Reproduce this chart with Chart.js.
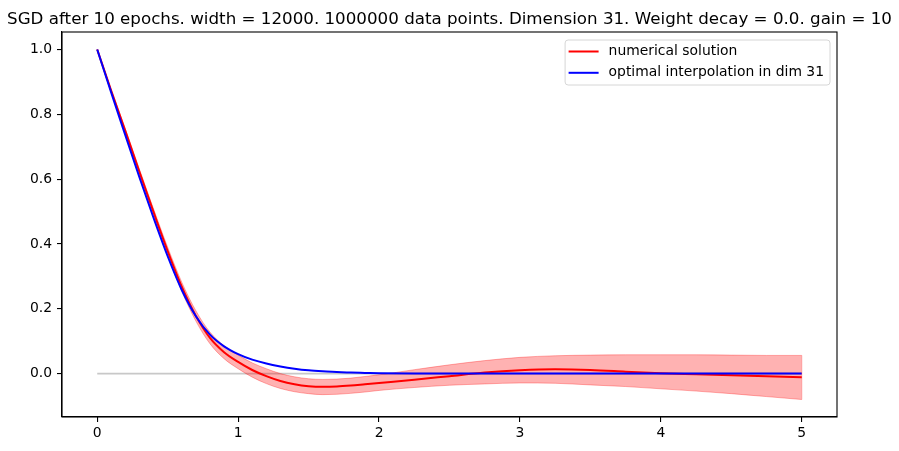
<!DOCTYPE html>
<html>
<head>
<meta charset="utf-8">
<script src="https://cdn.jsdelivr.net/npm/chart.js@4/dist/chart.umd.min.js"></script>
<style>
  html, body { margin: 0; padding: 0; background: #fff; }
  #wrap { width: 899px; height: 451px; }
</style>
</head>
<body>
<div id="wrap"><canvas id="chart" width="899" height="451"></canvas></div>
<script>
// values
const xs = [0, 0.1, 0.2, 0.3, 0.4, 0.5, 0.6, 0.7, 0.8, 0.9, 1.0,
            1.1, 1.2, 1.3, 1.4, 1.5, 1.6, 1.7, 1.8, 1.9, 2.0,
            2.25, 2.5, 2.75, 3.0, 3.25, 3.5, 3.75, 4.0, 4.25, 4.5, 4.75, 5.0];

const numerical = [1.000, 0.872, 0.748, 0.622, 0.498, 0.378, 0.268, 0.178, 0.110, 0.066, 0.036,
                   0.011, -0.008, -0.023, -0.033, -0.039, -0.041, -0.040, -0.037, -0.033, -0.029,
                   -0.019, -0.008, 0.003, 0.010, 0.013, 0.011, 0.006, 0.001, -0.002, -0.005, -0.008, -0.011];

const bandUpper = [1.000, 0.875, 0.754, 0.630, 0.508, 0.390, 0.282, 0.194, 0.128, 0.086, 0.057,
                   0.033, 0.015, 0.000, -0.010, -0.016, -0.018, -0.017, -0.014, -0.009, -0.004,
                   0.012, 0.027, 0.040, 0.050, 0.055, 0.057, 0.058, 0.058, 0.058, 0.057, 0.056, 0.056];

const bandLower = [1.000, 0.869, 0.742, 0.614, 0.488, 0.366, 0.254, 0.162, 0.092, 0.046, 0.015,
                   -0.011, -0.031, -0.046, -0.056, -0.062, -0.065, -0.064, -0.061, -0.057, -0.052,
                   -0.043, -0.036, -0.032, -0.029, -0.030, -0.035, -0.040, -0.047, -0.054, -0.062, -0.071, -0.080];

const optimal = [1.000, 0.866, 0.735, 0.605, 0.480, 0.362, 0.258, 0.177, 0.120, 0.084, 0.060,
                 0.043, 0.031, 0.022, 0.015, 0.010, 0.007, 0.005, 0.003, 0.002, 0.001,
                 0, 0, 0, 0, 0, 0, 0, 0, 0, 0, 0, 0];

const zeroLineX = [0, 5];
const zeroLineY = [0, 0];

const xTicks = [0, 1, 2, 3, 4, 5];
const yTicks = [0.0, 0.2, 0.4, 0.6, 0.8, 1.0];

const titleText = 'SGD after 10 epochs. width = 12000. 1000000 data points. Dimension 31. Weight decay = 0.0. gain = 10';

function pts(xv, yv) {
  return xv.map((x, i) => ({ x: x, y: yv[i] }));
}

Chart.defaults.font.family = "'DejaVu Sans', sans-serif";
Chart.defaults.color = '#000';

// matplotlib style title, frame and legend box
const framePlugin = {
  id: 'frame',
  afterDatasetsDraw(chart) {
    // closing edge of the band at the last x
    const ctx = chart.ctx;
    const sx = chart.scales.x, sy = chart.scales.y;
    const n = xs.length - 1;
    ctx.save();
    ctx.strokeStyle = 'rgba(255,0,0,0.3)';
    ctx.lineWidth = 1;
    ctx.beginPath();
    ctx.moveTo(sx.getPixelForValue(xs[n]), sy.getPixelForValue(bandUpper[n]));
    ctx.lineTo(sx.getPixelForValue(xs[n]), sy.getPixelForValue(bandLower[n]));
    ctx.stroke();
    ctx.restore();
  },
  afterDraw(chart) {
    const ctx = chart.ctx;
    const a = chart.chartArea;
    ctx.save();
    ctx.strokeStyle = '#000';
    ctx.lineWidth = 1.1;
    ctx.strokeRect(a.left, a.top, a.right - a.left, a.bottom - a.top);

    // title
    ctx.fillStyle = '#000';
    ctx.font = "16.7px 'DejaVu Sans'";
    ctx.textAlign = 'center';
    ctx.textBaseline = 'alphabetic';
    ctx.fillText(titleText, (a.left + a.right) / 2, 24);

    // legend
    const items = chart.data.datasets.filter(d => d.legendRank !== undefined)
      .sort((p, q) => p.legendRank - q.legendRank);
    const fs = 13.9;
    ctx.font = fs + "px 'DejaVu Sans'";
    let maxW = 0;
    items.forEach(d => { maxW = Math.max(maxW, ctx.measureText(d.label).width); });
    const rowH = 21.3;
    const w = 3.5 + 30 + 10 + maxW + 6;
    const h = 45;
    const bx = a.right - 7 - w;
    const by = a.top + 8;
    ctx.beginPath();
    if (ctx.roundRect) ctx.roundRect(bx, by, w, h, 3); else ctx.rect(bx, by, w, h);
    ctx.fillStyle = 'rgba(255,255,255,0.8)';
    ctx.fill();
    ctx.strokeStyle = '#d6d6d6';
    ctx.lineWidth = 1;
    ctx.stroke();
    items.forEach((d, i) => {
      const cy = by + 11.5 + i * rowH;
      ctx.beginPath();
      ctx.moveTo(bx + 3.5, cy);
      ctx.lineTo(bx + 33.5, cy);
      ctx.strokeStyle = d.borderColor;
      ctx.lineWidth = 2;
      ctx.stroke();
      ctx.fillStyle = '#000';
      ctx.textBaseline = 'middle';
      ctx.textAlign = 'left';
      ctx.fillText(d.label, bx + 43.5, cy);
    });
    ctx.restore();
  }
};

new Chart(document.getElementById('chart'), {
  type: 'line',
  data: {
    datasets: [
      {
        label: 'optimal interpolation in dim 31',
        data: pts(xs, optimal),
        borderColor: '#0000ff',
        borderWidth: 2,
        pointRadius: 0,
        cubicInterpolationMode: 'monotone',
        fill: false,
        order: 0,
        legendRank: 1
      },
      {
        label: 'numerical solution',
        data: pts(xs, numerical),
        borderColor: '#ff0000',
        borderWidth: 2,
        pointRadius: 0,
        cubicInterpolationMode: 'monotone',
        fill: false,
        order: 1,
        legendRank: 0
      },
      {
        label: 'upper',
        data: pts(xs, bandUpper),
        borderColor: 'rgba(255,0,0,0.3)',
        borderWidth: 1,
        pointRadius: 0,
        cubicInterpolationMode: 'monotone',
        fill: false,
        order: 2
      },
      {
        label: 'lower',
        data: pts(xs, bandLower),
        borderColor: 'rgba(255,0,0,0.3)',
        backgroundColor: 'rgba(255,0,0,0.3)',
        borderWidth: 1,
        pointRadius: 0,
        cubicInterpolationMode: 'monotone',
        fill: '-1',
        order: 3
      },
      {
        label: 'zero',
        data: pts(zeroLineX, zeroLineY),
        borderColor: '#c8c8c8',
        borderWidth: 1.8,
        pointRadius: 0,
        fill: false,
        order: 4
      }
    ]
  },
  options: {
    responsive: false,
    animation: false,
    devicePixelRatio: 1,
    layout: { padding: { left: 0, right: 62, top: 32, bottom: 0 } },
    plugins: {
      legend: { display: false },
      tooltip: { enabled: false },
      title: { display: false }
    },
    scales: {
      x: {
        type: 'linear',
        min: -0.25,
        max: 5.25,
        afterBuildTicks: s => { s.ticks = xTicks.map(v => ({ value: v })); },
        afterFit: s => { s.height = 34; },
        ticks: {
          font: { size: 13.9 },
          color: '#000',
          padding: 3,
          maxRotation: 0,
          callback: v => String(v)
        },
        grid: { drawOnChartArea: false, drawTicks: true, tickLength: 5, color: '#000', lineWidth: 1.1 },
        border: { display: true, color: '#000', width: 1.1 }
      },
      y: {
        type: 'linear',
        min: -0.134,
        max: 1.054,
        afterBuildTicks: s => { s.ticks = yTicks.map(v => ({ value: v })); },
        afterFit: s => { s.width = 62; },
        ticks: {
          font: { size: 13.9 },
          color: '#000',
          padding: 5,
          callback: v => v.toFixed(1)
        },
        grid: { drawOnChartArea: false, drawTicks: true, tickLength: 5, color: '#000', lineWidth: 1.1 },
        border: { display: true, color: '#000', width: 1.1 }
      }
    }
  },
  plugins: [framePlugin]
});
</script>
</body>
</html>
